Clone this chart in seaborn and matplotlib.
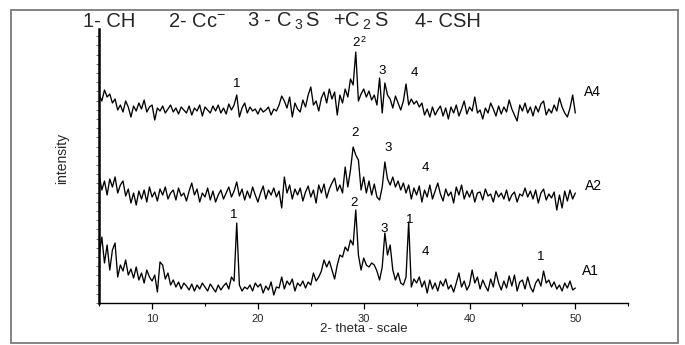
import numpy as np
import pandas as pd
import matplotlib
matplotlib.use("Agg")
import matplotlib.pyplot as plt
import seaborn as sns
from matplotlib.patches import Rectangle
from matplotlib.ticker import MultipleLocator

# ---------------- data ----------------
two_theta_start = 5.0
two_theta_step = 0.25

a4_counts = [
    30, 24, 35, 28,  31, 22, 26, 15,  20, 13, 24, 18,  8, 19, 14, 22,
    16, 25, 13, 18,  20, 5, 17, 14,   19, 12, 16, 20,  13, 17, 11, 18,
    15, 12, 19, 10,  17, 14, 20, 9,   18, 15, 12, 19,  14, 20, 12, 17,
    11, 21, 15, 20,  30, 8, 17, 22,   12, 18, 14, 16,  11, 17, 13, 15,
    18, 10, 16, 14,  20, 29, 24, 17,  28, 8, 22, 16,   13, 25, 18, 30,
    38, 20, 24, 14,  27, 33, 22, 36,  26, 33, 10, 30,  22, 36, 28, 46,
    40, 73, 24, 31,  36, 28, 34, 25,  30, 20, 47, 12,  42, 30, 26, 17,
    29, 22, 15, 24,  41, 20, 26, 21,  24, 18, 22, 10,  16, 8, 18, 10,
    15, 19, 9, 17,   6, 18, 12, 20,   9, 16, 24, 11,   18, 14, 28, 12,
    15, 6, 17, 12,   22, 16, 9, 19,   11, 18, 13, 25,  16, 10, 4, 20,
    14, 22, 12, 18,  9, 19, 13, 21,   24, 10, 16, 12,  20, 14, 27, 18,
    12, 8, 17, 30,   12,
]

a2_counts = [
    30, 15, 24, 10,  26, 18, 28, 12,  20, 24, 9, 16,   2, 12, 0, 14,
    6, 15, 3, 18,    8, 13, 4, 16,    10, 18, 6, 12,   15, 5, 17, 9,
    12, 4, 14, 22,   10, 16, 3, 12,   8, 17, 5, 14,    3, 10, 15, 6,
    12, 18, 8, 14,   23, 9, 16, 5,    14, 7, 18, 10,   3, 12, 19, 6,
    15, 10, 17, 8,   14, -3, 28, 12,  20, 6, 16, 10,   17, 4, 13, 19,
    8, 15, 2, 20,    12, 21, 7, 16,   22, 27, 14, 20,  12, 38, 18, 35,
    58, 50, 45, 15,  28, 12, 24, 10,  21, 8, 5, 18,    43, 26, 20, 28,
    18, 24, 15, 22,  12, 20, 6, 17,   10, 19, 3, 15,   8, 20, 6, 14,
    22, 11, 4, 16,   9, 13, 2, 18,    10, 20, 6, 14,   8, 15, 3, 12,
    13, 5, 16, 9,    11, 3, 14, 8,    12, 6, 15, 4,    10, 13, 3, 11,
    9, 17, 8, 14,    6, 15, 2, 12,    16, 5, 11, 7,    13, -5, 10, -3,
    14, 4, 15, 6,    12,
]

a1_counts = [
    40, 58, 32, 50,  25, 45, 52, 18,  30, 24, 35, 20,  26, 17, 28, 15,
    22, 12, 25, 18,  14, 20, 3, 33,   30, 16, 22, 10,  15, 8, 13, 6,
    12, 9, 5, 11,    4, 10, 6, 12,    8, 4, 11, 7,     3, 10, 5, 9,
    12, 6, 18, 14,   72, 10, 4, 8,    6, 10, 4, 12,    8, 11, 2, 9,
    5, 13, 0, 8,     7, 18, 6, 14,    10, 16, 4, 12,   9, 14, 7, 13,
    10, 22, 14, 18,  24, 35, 28, 34,  25, 16, 30, 40,  38, 48, 44, 55,
    50, 85, 40, 25,  37, 30, 28, 32,  30, 24, 15, 28,  62, 40, 50, 25,
    15, 22, 12, 10,  18, 73, 8, 16,   12, 18, 8, 14,   2, 15, 6, 12,
    4, 14, 9, 16,    6, 10, 3, 12,    22, 8, 14, 5,    10, 25, 12, 18,
    6, 15, 9, 4,     16, 8, 23, 12,   5, 14, 7, 19,    9, 20, 4, 13,
    15, 6, 18, 8,    3, 12, 16, 9,    24, 12, 15, 8,   13, 6, 10, 4,
    12, 7, 14, 5,    7,
]

sample_names = ["A4", "A2", "A1"]
sample_offsets = [178, 98, 8]

x_ticks = [10, 20, 30, 40, 50]

legend_parts = ["1- CH",
                r"2- Cc$^{\mathregular{-}}$",
                r"3 - C$\,_{\mathregular{3}}\,$S",
                r"+C$\,_{\mathregular{2}}\,$S",
                "4- CSH"]
legend_part_px = [83, 168, 247, 333, 415]

peak_labels = ["1", "2", "3", "4",
               "2", "3", "4",
               "1", "2", "3", "1", "4", "1"]
peak_x = [17.96, 29.3, 31.78, 34.8,
          29.2, 32.35, 35.85,
          17.7, 29.1, 31.97, 34.34, 35.85, 46.7]
peak_y = [219, 260, 232, 230,
          170, 155, 135,
          88, 100, 74, 83, 51, 46]

sample_label_x = [50.85, 50.9, 50.6]
sample_label_y = [211, 117, 32]

# ---------------- build table ----------------
frames = []
for name, counts, off in zip(sample_names, [a4_counts, a2_counts, a1_counts], sample_offsets):
    n = len(counts)
    tt = two_theta_start + two_theta_step * np.arange(n)
    frames.append(pd.DataFrame({"two_theta": tt,
                                "intensity": np.array(counts, float) + off,
                                "sample": name}))
df = pd.concat(frames, ignore_index=True)

# ---------------- style ----------------
sns.set_style("ticks")
plt.rcParams["font.family"] = ["Liberation Sans", "DejaVu Sans"]
plt.rcParams["mathtext.fontset"] = "custom"
plt.rcParams["mathtext.rm"] = "Liberation Sans"

fig = plt.figure(figsize=(6.85, 3.45), dpi=100)
fig.patch.set_facecolor("white")
fig.patches.append(Rectangle((0.016, 0.007), 0.974, 0.964, transform=fig.transFigure,
                             fill=False, edgecolor="#7a7a7a", linewidth=1.3))

ax = fig.add_axes([0.1448, 0.1217, 0.7723, 0.7942])
for name in sample_names:
    sub = df[df["sample"] == name]
    sns.lineplot(data=sub, x="two_theta", y="intensity", ax=ax, color="black",
                 linewidth=0.95, estimator=None, sort=False, legend=False)

ax.set_xlim(5, 55)
ax.set_ylim(0, 274)
ax.set_xticks(x_ticks)
ax.xaxis.set_minor_locator(MultipleLocator(5))
ax.yaxis.set_major_locator(MultipleLocator(9.2))
ax.set_yticklabels([])
ax.tick_params(axis="x", which="major", length=4, width=0.9, labelsize=8, pad=4, color="black")
ax.tick_params(axis="x", which="minor", length=2.5, width=0.8, color="black")
ax.tick_params(axis="y", which="major", length=2, width=0.6, color="#555555")
sns.despine(ax=ax)
ax.spines["left"].set_linewidth(1.8)
ax.spines["bottom"].set_linewidth(1.0)
ax.spines["left"].set_color("black")
ax.spines["bottom"].set_color("black")
ax.set_xlabel("2- theta - scale", fontsize=9.5, labelpad=-1)
ax.set_ylabel("")

for t, xx, yy in zip(peak_labels, peak_x, peak_y):
    ax.text(xx, yy, t, fontsize=9.5, ha="center", va="center", color="black")
ax.text(29.95, 264, "2", fontsize=6.5, ha="center", va="center", color="black")
for t, xx, yy in zip(sample_names, sample_label_x, sample_label_y):
    ax.text(xx, yy, t, fontsize=10, ha="left", va="center", color="black")

for part, px in zip(legend_parts, legend_part_px):
    fig.text(px / 685, 1 - 27 / 345, part, fontsize=14.5, ha="left", va="baseline")
fig.text(62 / 685, 1 - 158 / 345, "intensity", fontsize=10, rotation=90,
         ha="center", va="center")

fig.savefig("out.png", dpi=100, facecolor="white")
